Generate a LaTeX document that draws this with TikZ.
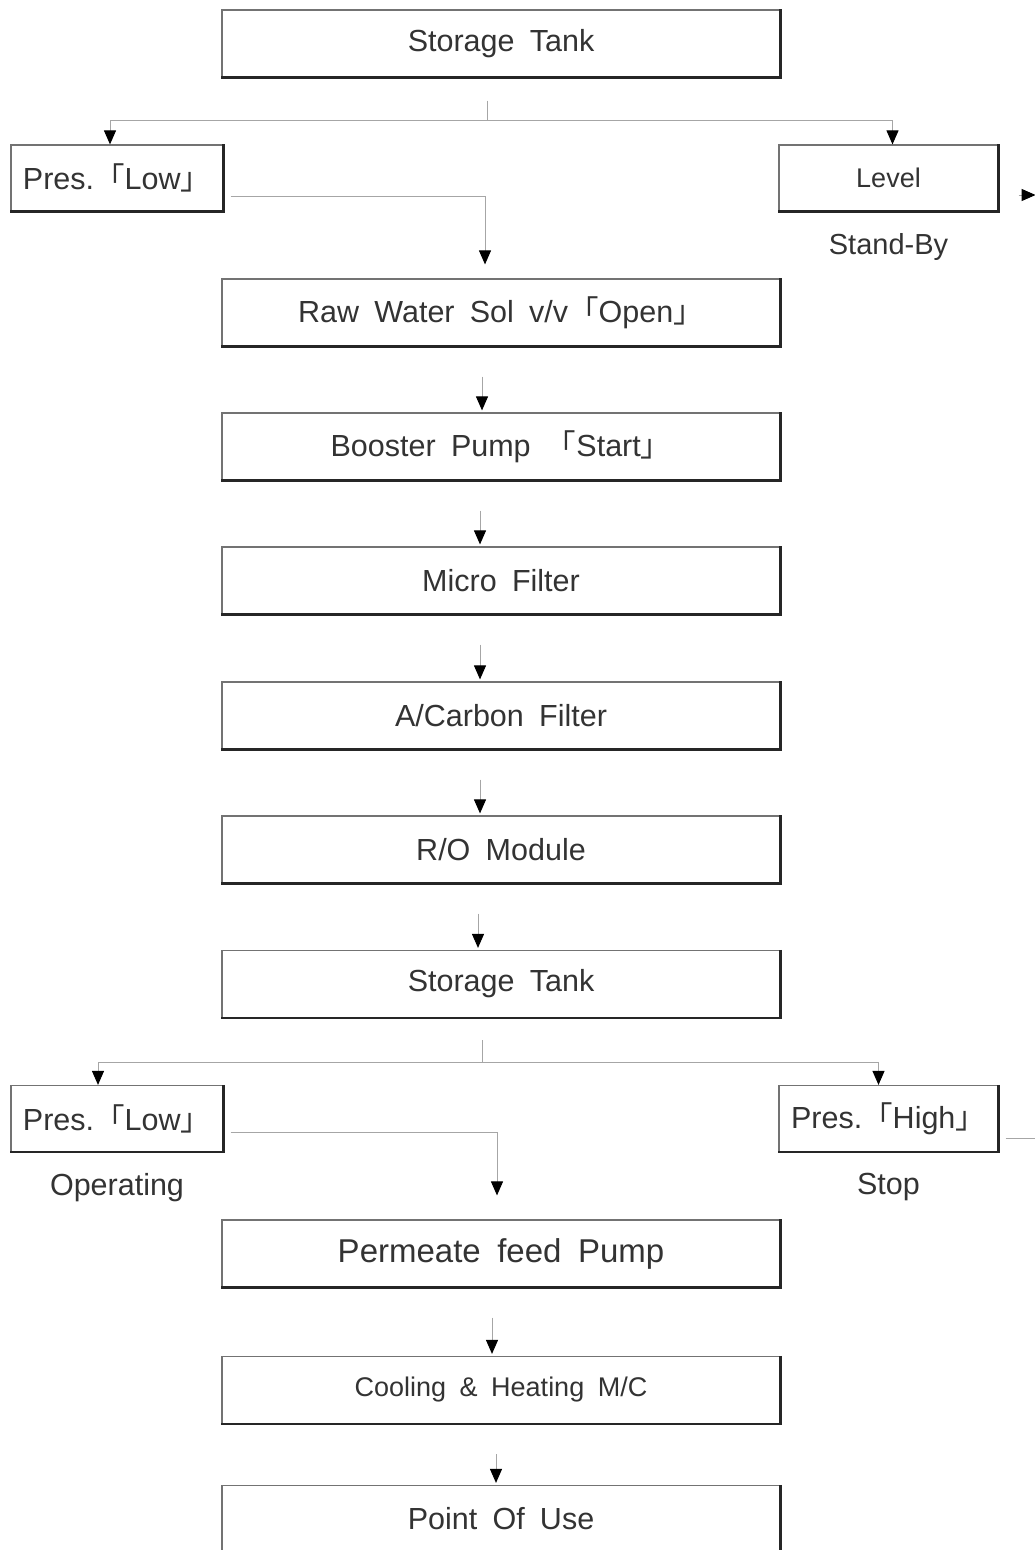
\documentclass[tikz,border=0pt]{standalone}
\usepackage{fontspec}
\setmainfont{Liberation Sans}[WordSpace=1.8]
\newfontfamily\cjk{Noto Sans CJK KR}
\usetikzlibrary{arrows.meta,positioning,calc}
\newcommand{\brl}{{\cjk 「}}
\newcommand{\brr}{{\cjk 」}}

\begin{document}
\begin{tikzpicture}[x=1pt,y=-1pt, font=\fontsize{30.5}{34}\selectfont, text=black!80,
    box/.style={draw=black!55, line width=1.2pt, minimum width=558pt, minimum height=67pt, inner sep=0pt,
      append after command={(\tikzlastnode.north east) edge[draw=black!85, line width=2.6pt,
        to path={|- (\tikztotarget)}] (\tikzlastnode.south west)}},
    sbox/.style={box, minimum width=212pt, minimum height=66pt},
    conn/.style={draw=black!35, line width=1pt},
    arr/.style={conn, -{Triangle[length=14pt,width=12pt,color=black]}}]
\useasboundingbox (0,0) rectangle (1035,1550);
% main column
\node[box] (tank1) at (501,43.5) {Storage Tank};
\node[sbox] (plow1) at (117,178) {Pres.\brl Low\brr};
\node[sbox, minimum width=219pt, font=\fontsize{27}{30}\selectfont] (level) at (888.5,178) {Level};
\node[font=\fontsize{29}{32}\selectfont] (standby) at ($(level.south)+(0,35)$) {Stand-By};
\node[box] (raw) at (501,312.5) {Raw Water Sol v/v\brl Open\brr};
\node[box] (boost) at (501,446.5) {Booster Pump \brl Start\brr};
\node[box] (micro) at (501,580.5) {Micro Filter};
\node[box] (carbon) at (501,715.5) {A/Carbon Filter};
\node[box] (ro) at (501,849.5) {R/O Module};
\node[box] (tank2) at (501,984) {Storage Tank};
\node[sbox] (plow2) at (117,1118.5) {Pres.\brl Low\brr};
\node (oper) at ($(plow2.south)+(0,35)$) {Operating};
\node[sbox, minimum width=219pt] (phigh) at (888.5,1118.5) {Pres.\brl High\brr};
\node (stop) at ($(phigh.south)+(0,35)$) {Stop};
\node[box, font=\fontsize{33}{36}\selectfont] (perm) at (501,1253.5) {Permeate feed Pump};
\node[box, font=\fontsize{27}{30}\selectfont] (cool) at (501,1390) {Cooling \& Heating M/C};
\node[box] (pou) at (501,1519) {Point Of Use};
% top branch
\draw[conn] ($(tank1.south)+(-14,23)$) -- ++(0,20) coordinate (j1);
\draw[arr] (j1) -| ($(plow1.north)+(-7,0)$);
\draw[arr] (j1) -| ($(level.north)+(4,0)$);
\coordinate (lvout) at ($(level.east)+(37,17)$);
\draw[arr] ($(level.east)+(20,17)$) -- (lvout);
\draw[arr] ($(plow1.east)+(7,18)$) -| ($(raw.north)+(-16,-14)$);
% straight steps
\foreach \a/\b/\dx in {raw/boost/-19, boost/micro/-21, micro/carbon/-21, carbon/ro/-21,
    ro/tank2/-23, perm/cool/-9, cool/pou/-5}
  \draw[arr] ($(\a.south)+(\dx,30)$) -- ($(\b.north)+(\dx,-2)$);
% bottom branch
\draw[conn] ($(tank2.south)+(-19,22)$) -- ++(0,22) coordinate (j2);
\draw[arr] (j2) -| ($(plow2.north)+(-19,0)$);
\draw[arr] (j2) -| ($(phigh.north)+(-10,0)$);
\draw[arr] ($(plow2.east)+(7,13.5)$) -| ($(perm.north)+(-4,-24)$);
\coordinate (phout) at ($(phigh.east)+(37,20)$);
\draw[conn] ($(phigh.east)+(7,20)$) -- (phout);
\end{tikzpicture}
\end{document}
